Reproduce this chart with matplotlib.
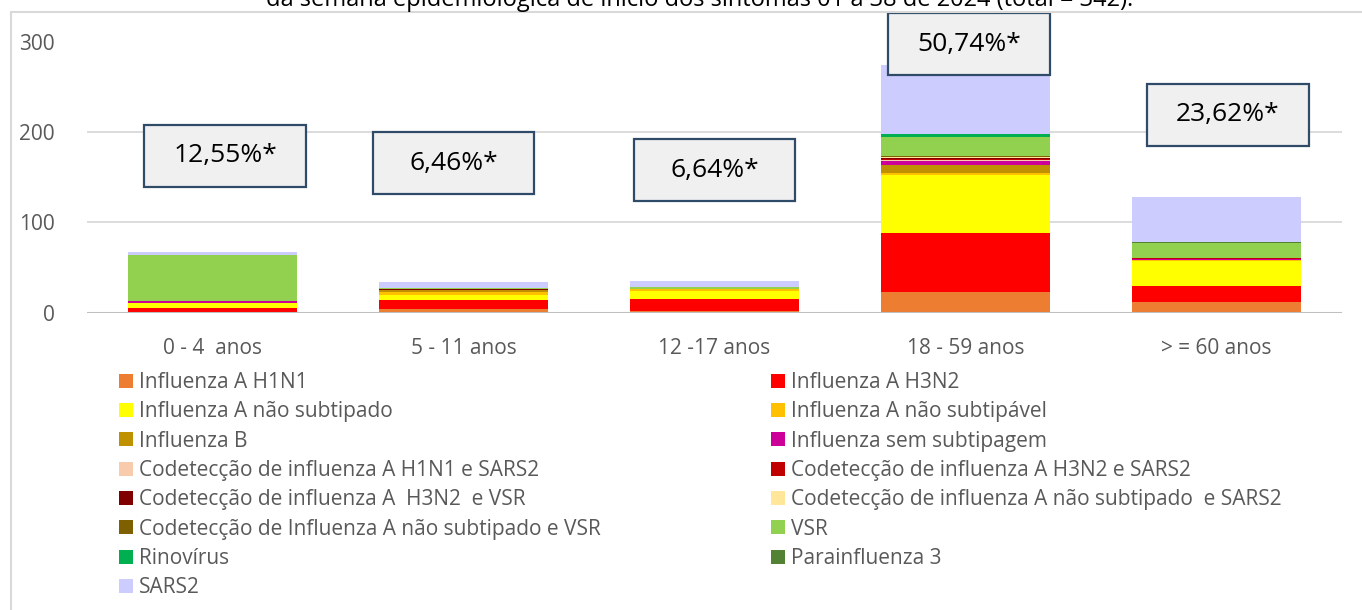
import matplotlib
matplotlib.use("Agg")
import matplotlib.pyplot as plt
from matplotlib.patches import Rectangle
import numpy as np

plt.rcParams['font.family'] = ['Open Sans', 'DejaVu Sans']

categories = ["0 - 4  anos", "5 - 11 anos", "12 -17 anos", "18 - 59 anos", "> = 60 anos"]

series_names = [
    "Influenza A H1N1",
    "Influenza A H3N2",
    "Influenza A não subtipado",
    "Influenza A não subtipável",
    "Influenza B",
    "Influenza sem subtipagem",
    "Codetecção de influenza A H1N1 e SARS2",
    "Codetecção de influenza A H3N2 e SARS2",
    "Codetecção de influenza A  H3N2  e VSR",
    "Codetecção de influenza A não subtipado  e SARS2",
    "Codetecção de Influenza A não subtipado e VSR",
    "VSR",
    "Rinovírus",
    "Parainfluenza 3",
    "SARS2",
]

h1n1 = [1, 4, 2, 23, 12]
h3n2 = [4, 10, 14, 65, 18]
a_nao_subtipado = [6, 6, 8, 64, 28]
a_nao_subtipavel = [0, 3, 2, 3, 1]
influenza_b = [0, 2, 0, 8, 0]
sem_subtipagem = [2, 0, 0, 5, 1]
cod_h1n1_sars2 = [0, 0, 0, 1, 0]
cod_h3n2_sars2 = [0, 0, 0, 1, 1]
cod_h3n2_vsr = [0, 1, 0, 1, 0]
cod_nsub_sars2 = [0, 0, 0, 1, 0]
cod_nsub_vsr = [0, 1, 0, 1, 0]
vsr = [51, 1, 3, 21, 16]
rinovirus = [0, 0, 0, 4, 0]
parainfluenza3 = [0, 0, 0, 0, 1]
sars2 = [3, 6, 6, 76, 50]

series_values = [h1n1, h3n2, a_nao_subtipado, a_nao_subtipavel, influenza_b,
                 sem_subtipagem, cod_h1n1_sars2, cod_h3n2_sars2, cod_h3n2_vsr,
                 cod_nsub_sars2, cod_nsub_vsr, vsr, rinovirus, parainfluenza3, sars2]

colors = ["#ED7D31", "#FF0000", "#FFFF00", "#FFC000", "#BF9000", "#CC0099",
          "#F8CBAD", "#C00000", "#800000", "#FFE699", "#7F6000", "#92D050",
          "#00B050", "#548235", "#CCCCFF"]

pct_labels = ["12,55%*", "6,46%*", "6,64%*", "50,74%*", "23,62%*"]

title = "da semana epidemiológica de início dos sintomas 01 a 38 de 2024 (total = 342)."

W, H = 1362, 610
fig = plt.figure(figsize=(W / 100, H / 100), dpi=100)
ax = fig.add_axes([87 / W, 1 - 313 / H, (1342 - 87) / W, (313 - 41.5) / H])

x = np.arange(len(categories))
bottom = np.zeros(len(categories))
handles = []
for name, vals, c in zip(series_names, series_values, colors):
    b = ax.bar(x, vals, width=0.67, bottom=bottom, color=c, label=name, linewidth=0, zorder=3)
    handles.append(b)
    bottom += np.array(vals)

ax.set_xlim(-0.5, len(categories) - 0.5)
ax.set_ylim(0, 300)
ax.set_yticks([0, 100, 200, 300])
ax.set_xticks(x)
ax.set_xticklabels(categories)
for s in ax.spines.values():
    s.set_visible(False)
ax.tick_params(axis='both', length=0, colors='#595959', labelsize=15)
ax.tick_params(axis='y', pad=23)
ax.tick_params(axis='x', pad=18)
ax.grid(axis='y', color='#D9D9D9', linewidth=1.3, zorder=0)
ax.axhline(0, color='#BFBFBF', linewidth=1.5, zorder=4)

# percentage boxes
box_cx_off = [0.05, -0.04, 0.0, 0.015, 0.045]
box_cy = [173.5, 165.7, 158, 297, 218.8]
bw, bh = 0.645, 68.5
for i, (lab, dx, cy) in enumerate(zip(pct_labels, box_cx_off, box_cy)):
    cx = i + dx
    r = Rectangle((cx - bw / 2, cy - bh / 2), bw, bh, facecolor='#F0F0F0',
                  edgecolor='#2F4B68', linewidth=1.6, zorder=6, clip_on=False)
    ax.add_patch(r)
    ax.text(cx, cy, lab, ha='center', va='center', fontsize=19, color='black',
            zorder=7, clip_on=False)

# legend: two columns, row-major order
col1 = list(range(0, len(series_names), 2))
col2 = list(range(1, len(series_names), 2))
fs = 15
fpx = fs * 100 / 72
common = dict(loc='upper left', frameon=False, borderpad=0, borderaxespad=0,
              handlelength=14 / fpx, handleheight=14 / fpx,
              handletextpad=0.3, labelspacing=0.4, fontsize=fs, labelcolor='#595959')
fig.legend([handles[i] for i in col1], [series_names[i] for i in col1],
           bbox_to_anchor=(119 / W, 1 - 372 / H), **common)
fig.legend([handles[i] for i in col2], [series_names[i] for i in col2],
           bbox_to_anchor=(771 / W, 1 - 372 / H), **common)

# title (partially cut at top, as in the original)
fig.text(700 / W, 1 - 5.5 / H, title, ha='center', va='baseline', fontsize=17, color='black')

# outer border
fig.patches.append(Rectangle((11 / W, -0.1), 2, 1 - 12 / H + 0.1, transform=fig.transFigure,
                             fill=False, edgecolor='#D9D9D9', linewidth=1.5))

fig.savefig("out.png", dpi=100)
